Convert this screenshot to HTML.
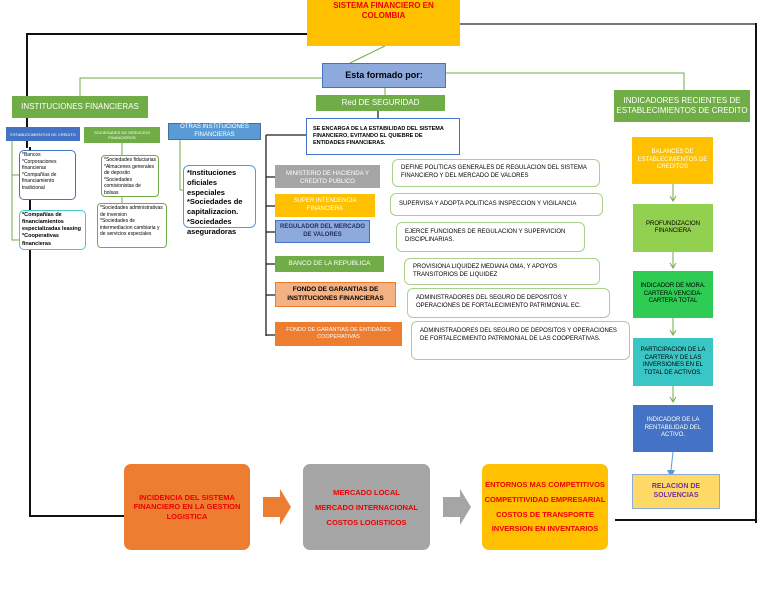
<!DOCTYPE html>
<html><head><meta charset="utf-8"><style>
body{margin:0;width:768px;height:594px;background:#fff;position:relative;overflow:hidden;font-family:"Liberation Sans",sans-serif;}
.b{position:absolute;box-sizing:border-box;display:flex;align-items:center;justify-content:center;text-align:center;font-size:7px;line-height:1.25;}
.l{position:absolute;}
.t{position:absolute;box-sizing:border-box;font-size:6px;line-height:1.3;background:#fff;}
</style></head><body>
<!-- lines -->
<div class="l" style="left:26px;top:33px;width:282px;height:2px;background:#111"></div>
<div class="l" style="left:460px;top:23px;width:297px;height:2px;background:#777"></div>
<div class="l" style="left:26px;top:33px;width:2px;height:115px;background:#111"></div>
<div class="l" style="left:29px;top:147px;width:2px;height:370px;background:#111"></div>
<div class="l" style="left:29px;top:515px;width:96px;height:2px;background:#111"></div>
<div class="l" style="left:755px;top:23px;width:2px;height:500px;background:#111"></div>
<div class="l" style="left:615px;top:519px;width:142px;height:2px;background:#111"></div>
<svg class="l" style="left:0;top:0" width="768" height="594">
<g stroke="#70AD47" stroke-width="1" fill="none">
<line x1="385" y1="46" x2="350" y2="63"/>
<polyline points="322,78 80,78 80,96"/>
<polyline points="446,73 684,73 684,90"/>
<line x1="385" y1="88" x2="385" y2="95"/>
<polyline points="122,143 122,215 97,215"/>
<line x1="122" y1="178" x2="101" y2="178"/>
<polyline points="12,141 12,240 19,240"/>
<line x1="12" y1="175" x2="19" y2="175"/>
<line x1="180" y1="140" x2="180" y2="190"/><line x1="180" y1="190" x2="183" y2="190"/>
<line x1="673" y1="184" x2="673" y2="200"/><polyline points="670,196 673,201 676,196"/>
<line x1="673" y1="252" x2="673" y2="267"/><polyline points="670,263 673,268 676,263"/>
<line x1="673" y1="318" x2="673" y2="334"/><polyline points="670,330 673,335 676,330"/>
<line x1="673" y1="386" x2="673" y2="401"/><polyline points="670,397 673,402 676,397"/>
<line x1="673" y1="452" x2="671" y2="470" stroke="#5B9BD5"/>
</g>
<g stroke="#222" stroke-width="1.3">
<line x1="378" y1="111" x2="378" y2="118"/>
<line x1="266" y1="135" x2="306" y2="135"/>
<line x1="266" y1="135" x2="266" y2="336"/>
<line x1="266" y1="177" x2="275" y2="177"/><line x1="266" y1="206" x2="275" y2="206"/>
<line x1="266" y1="232" x2="275" y2="232"/><line x1="266" y1="264" x2="275" y2="264"/>
<line x1="266" y1="295" x2="275" y2="295"/><line x1="266" y1="335" x2="275" y2="335"/>
</g>
<polygon points="263,497 280,497 280,489 291,507 280,525 280,517 263,517" fill="#ED7D31"/>
<polygon points="443,497 460,497 460,489 471,507 460,525 460,517 443,517" fill="#A5A5A5"/>
<polygon points="667,470 675,470 671,478" fill="#5B9BD5"/>
</svg>
<!-- top -->
<div class="b" style="left:307px;top:0;width:153px;height:46px;background:#FFC000;color:#e00;font-weight:bold;font-size:8px;align-items:flex-start;padding-top:1px">SISTEMA FINANCIERO EN<br>COLOMBIA</div>
<div class="b" style="left:322px;top:63px;width:124px;height:25px;background:#8EA9DB;border:1px solid #4472C4;font-weight:bold;font-size:9px">Esta formado por:</div>
<div class="b" style="left:12px;top:96px;width:136px;height:22px;background:#70AD47;color:#fff;font-size:8px">INSTITUCIONES FINANCIERAS</div>
<div class="b" style="left:316px;top:95px;width:129px;height:16px;background:#70AD47;color:#fff;font-size:8px">Red DE SEGURIDAD</div>
<div class="b" style="left:614px;top:90px;width:136px;height:32px;background:#70AD47;color:#fff;font-size:8px">INDICADORES RECIENTES DE ESTABLECIMIENTOS DE CREDITO</div>
<div class="b" style="left:306px;top:118px;width:154px;height:37px;border:1px solid #4472C4;background:#fff;justify-content:flex-start;text-align:left;padding-left:6px;font-size:5.5px;font-weight:bold">SE ENCARGA DE LA ESTABILIDAD DEL SISTEMA<br>FINANCIERO, EVITANDO EL QUIEBRE DE<br>ENTIDADES FINANCIERAS.</div>
<!-- left -->
<div class="b" style="left:6px;top:127px;width:74px;height:14px;background:#4472C4;color:#fff;font-size:4px">ESTABLECIMIENTOS DE CREDITO</div>
<div class="b" style="left:84px;top:127px;width:76px;height:16px;background:#70AD47;color:#fff;font-size:4px">SOCIEDADES DE SERVICIOS FINANCIEROS</div>
<div class="b" style="left:168px;top:123px;width:93px;height:17px;background:#5B9BD5;color:#fff;font-size:6px;border:1px solid #41719C">OTRAS INSTITUCIONES FINANCIERAS</div>
<div class="t" style="left:19px;top:150px;width:57px;height:50px;border:1px solid #4472C4;border-radius:5px;padding:1px 2px;font-size:5px">*Bancos<br>*Corporaciones financieras<br>*Compañías de financiamiento tradicional</div>
<div class="t" style="left:19px;top:210px;width:67px;height:40px;border:1px solid #4BC6C6;border-radius:5px;padding:1px 2px;font-size:5.5px;font-weight:bold">*Compañías de financiamientos especializadas leasing<br>*Cooperativas financieras</div>
<div class="t" style="left:101px;top:155px;width:58px;height:42px;border:1px solid #70AD47;border-radius:4px;padding:1px 2px;font-size:5px">*Sociedades fiduciarias<br>*Almacenes generales de deposito<br>*Sociedades comisionistas de bolsas</div>
<div class="t" style="left:97px;top:203px;width:70px;height:45px;border:1px solid #70AD47;border-radius:4px;padding:1px 2px;font-size:5px">*Sociedades administrativas de inversion<br>*Sociedades de intermediacion cambiaria y de servicios especiales</div>
<div class="t" style="left:183px;top:165px;width:73px;height:63px;border:1px solid #5B9BD5;border-radius:6px;padding:2px 3px;font-size:7.5px;font-weight:bold;line-height:1.3">*Instituciones oficiales especiales<br>*Sociedades de capitalizacion.<br>*Sociedades aseguradoras</div>
<!-- middle -->
<div class="b" style="left:275px;top:165px;width:105px;height:23px;background:#A5A5A5;color:#fff;font-size:6px;overflow:hidden;align-items:flex-start;padding-top:6px">MINISTERIO DE HACIENDA Y CREDITO PUBLICO</div>
<div class="b" style="left:275px;top:194px;width:100px;height:23px;background:#FFC000;color:#fff;font-size:6px">SUPER INTENDENCIA FINANCIERA</div>
<div class="b" style="left:275px;top:220px;width:95px;height:23px;background:#8EA9DB;border:1px solid #4472C4;font-size:6px;font-weight:bold;color:#1F2F5F">REGULADOR DEL MERCADO DE VALORES</div>
<div class="b" style="left:275px;top:256px;width:109px;height:16px;background:#70AD47;color:#fff;font-size:6.5px">BANCO DE LA REPUBLICA</div>
<div class="b" style="left:275px;top:282px;width:121px;height:25px;background:#F4B183;border:1px solid #ED7D31;font-size:6.5px;font-weight:bold">FONDO DE GARANTIAS DE INSTITUCIONES FINANCIERAS</div>
<div class="b" style="left:275px;top:322px;width:127px;height:24px;background:#ED7D31;color:#fff;font-size:5.5px">FONDO DE GARANTIAS DE ENTIDADES COOPERATIVAS</div>
<div class="t" style="left:392px;top:159px;width:208px;height:28px;border:1px solid #A9D18E;border-radius:6px;padding:5px 8px">DEFINE POLITICAS GENERALES DE REGULACION DEL SISTEMA FINANCIERO Y DEL MERCADO DE VALORES</div>
<div class="t" style="left:390px;top:193px;width:213px;height:23px;border:1px solid #A9D18E;border-radius:6px;padding:7px 8px">SUPERVISA Y ADOPTA POLITICAS INSPECCION Y VIGILANCIA</div>
<div class="t" style="left:396px;top:222px;width:189px;height:30px;border:1px solid #A9D18E;border-radius:6px;padding:6px 8px">EJERCE FUNCIONES DE REGULACION Y SUPERVICION DISCIPLINARIAS.</div>
<div class="t" style="left:404px;top:258px;width:196px;height:27px;border:1px solid #A9D18E;border-radius:6px;padding:5px 8px">PROVISIONA LIQUIDEZ MEDIANA OMA, Y APOYOS TRANSITORIOS DE LIQUIDEZ</div>
<div class="t" style="left:407px;top:288px;width:203px;height:30px;border:1px solid #A9D18E;border-radius:6px;padding:6px 8px">ADMINISTRADORES DEL SEGURO DE DEPOSITOS Y OPERACIONES DE FORTALECIMIENTO PATRIMONIAL EC.</div>
<div class="t" style="left:411px;top:321px;width:219px;height:39px;border:1px solid #A9D18E;border-radius:6px;padding:6px 8px">ADMINISTRADORES DEL SEGURO DE DEPOSITOS Y OPERACIONES DE FORTALECIMIENTO PATRIMONIAL DE LAS COOPERATIVAS.</div>
<!-- right column -->
<div class="b" style="left:632px;top:137px;width:81px;height:47px;background:#FFC000;color:#fff;font-size:6px">BALANCES DE ESTABLECIMIENTOS DE CREDITOS</div>
<div class="b" style="left:633px;top:204px;width:80px;height:48px;background:#92D050;font-size:6px">PROFUNDIZACION FINANCIERA</div>
<div class="b" style="left:633px;top:271px;width:80px;height:47px;background:#2ECC55;font-size:6px">INDICADOR DE MORA. CARTERA VENCIDA-CARTERA TOTAL</div>
<div class="b" style="left:633px;top:338px;width:80px;height:48px;background:#3BC6C6;font-size:6px">PARTICIPACION DE LA CARTERA Y DE LAS INVERSIONES EN EL TOTAL DE ACTIVOS.</div>
<div class="b" style="left:633px;top:405px;width:80px;height:47px;background:#4472C4;color:#fff;font-size:6px">INDICADOR DE LA RENTABILIDAD DEL ACTIVO.</div>
<div class="b" style="left:632px;top:474px;width:88px;height:35px;background:#FFD966;border:1px solid #8FAADC;font-size:7px;color:#7030A0;font-weight:bold">RELACION DE SOLVENCIAS</div>
<!-- bottom -->
<div class="b" style="left:124px;top:464px;width:126px;height:86px;background:#ED7D31;border-radius:7px;color:#e00;font-weight:bold;font-size:7.5px">INCIDENCIA DEL SISTEMA FINANCIERO EN LA GESTION LOGISTICA</div>
<div class="b" style="left:303px;top:464px;width:127px;height:86px;background:#A5A5A5;border-radius:7px;color:#e00;font-weight:bold;font-size:7.5px;line-height:2">MERCADO LOCAL<br>MERCADO INTERNACIONAL<br>COSTOS LOGISTICOS</div>
<div class="b" style="left:482px;top:464px;width:126px;height:86px;background:#FFC000;border-radius:7px;color:#e00;font-weight:bold;font-size:7.5px;line-height:1.3;flex-direction:column;gap:5px"><div>ENTORNOS MAS COMPETITIVOS</div><div>COMPETITIVIDAD EMPRESARIAL</div><div>COSTOS DE TRANSPORTE</div><div>INVERSION EN INVENTARIOS</div></div>
</body></html>
